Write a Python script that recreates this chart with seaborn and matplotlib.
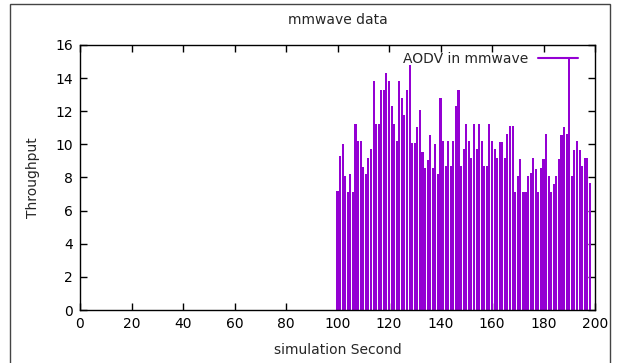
import numpy as np
import pandas as pd
import seaborn as sns
import matplotlib
matplotlib.use("Agg")
import matplotlib.pyplot as plt
from matplotlib.lines import Line2D
from matplotlib.patches import Rectangle

seconds = list(range(100, 199))
throughput = [
    7.2, 9.3, 10.05, 8.1, 7.15, 8.2, 7.15, 11.25, 10.2, 10.2,
    8.65, 8.2, 9.2, 9.7, 13.8, 11.25, 11.25, 13.3, 13.3, 14.3,
    13.8, 12.3, 11.25, 10.2, 13.8, 12.8, 11.75, 13.3, 14.8, 10.1,
    10.1, 11.05, 12.1, 9.55, 8.6, 9.05, 10.55, 8.55, 10.0, 8.2,
    12.8, 10.2, 8.7, 10.2, 8.7, 10.2, 12.3, 13.3, 8.7, 9.7,
    11.25, 10.2, 9.2, 11.25, 9.7, 11.25, 10.2, 8.7, 8.7, 11.25,
    10.2, 9.7, 9.2, 10.15, 10.15, 9.2, 10.6, 11.1, 11.1, 7.1,
    8.1, 9.1, 7.1, 7.15, 8.1, 8.3, 9.2, 8.5, 7.15, 8.6,
    9.1, 10.6, 8.1, 7.1, 7.6, 8.1, 9.1, 10.55, 11.05, 10.6,
    15.3, 8.1, 9.65, 10.2, 9.65, 8.7, 9.15, 9.2, 7.65,
]
x_ticks = list(range(0, 201, 20))
y_ticks = list(range(0, 17, 2))
series_label = "AODV in mmwave"
title = "mmwave data"
x_label = "simulation Second"
y_label = "Throughput"

color = "#9400D3"

sns.set_theme(style="white")
plt.rcParams["font.family"] = ["DejaVu Sans"]

fig = plt.figure(figsize=(6.19, 3.63), dpi=100)
ax = fig.add_axes([80 / 619, 1 - 310 / 363, 515 / 619, 265 / 363])

df = pd.DataFrame({"second": seconds, "throughput": throughput})
sns.barplot(data=df, x="second", y="throughput", native_scale=True,
            width=0.8, color=color, saturation=1, linewidth=0,
            errorbar=None, ax=ax)

ax.set_xlim(0, 200)
ax.set_ylim(0, 16)
ax.set_xticks(x_ticks)
ax.set_yticks(y_ticks)
ax.set_xticklabels([str(t) for t in x_ticks], fontsize=10)
ax.set_yticklabels([str(t) for t in y_ticks], fontsize=10)
ax.tick_params(direction="in", length=5, width=1, top=True, right=True,
               bottom=True, left=True, colors="black", pad=5)
for s in ax.spines.values():
    s.set_visible(True)
    s.set_color("black")
    s.set_linewidth(1)

ax.set_title(title, fontsize=10, pad=15)
ax.set_xlabel(x_label, fontsize=10, labelpad=9)
ax.set_ylabel(y_label, fontsize=10, labelpad=11)

handle = Line2D([0], [0], color=color, lw=1.5)
ax.legend(handles=[handle], labels=[series_label], loc="upper right",
          frameon=False, markerfirst=False, handlelength=2.85,
          fontsize=10, borderaxespad=0.85, handletextpad=0.7,
          bbox_to_anchor=(1.0, 1.04))

fig.patches.append(Rectangle((10 / 619, -0.01), 600 / 619, 1 - 4 / 363 + 0.01,
                             transform=fig.transFigure, fill=False,
                             edgecolor="#444444", lw=1))

fig.savefig("out.png", dpi=100)
